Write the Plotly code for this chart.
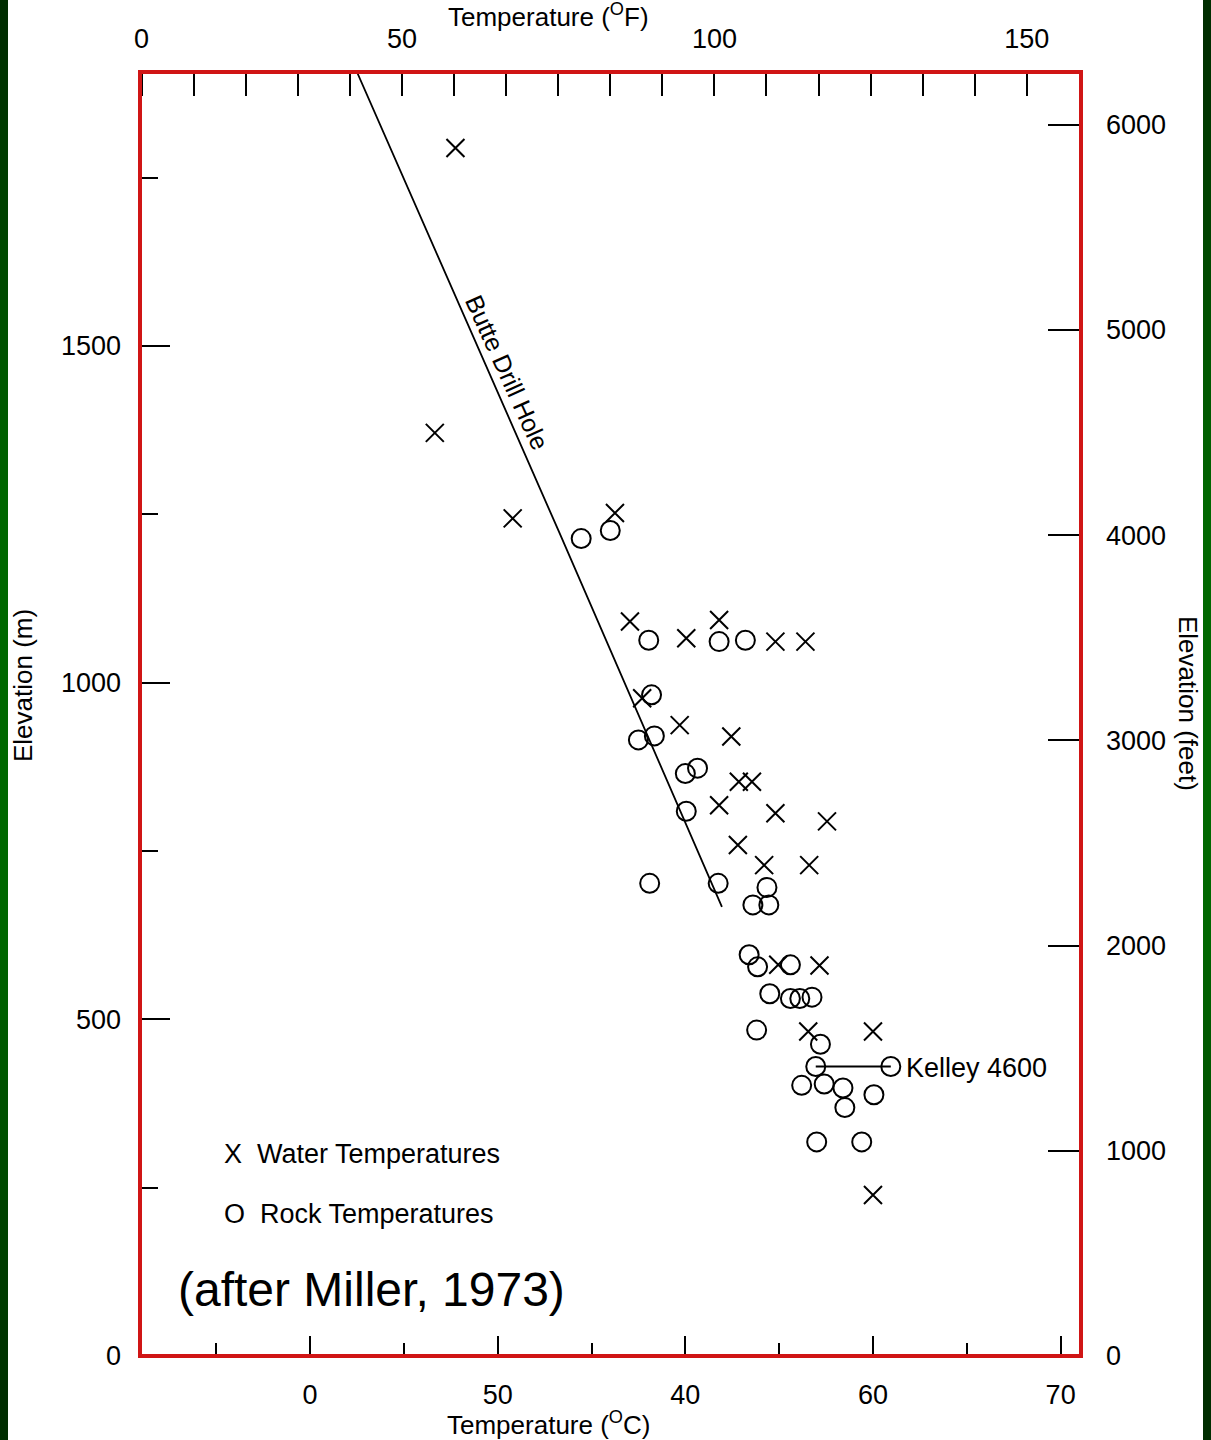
import plotly.graph_objects as go

# ---------------- data ----------------
water_temp_c = [15.5, 13.3, 21.6, 32.5, 34.1, 43.6, 40.1, 49.6, 52.8, 35.4, 39.4, 44.9,
                45.7, 47.1, 43.6, 49.6, 55.1, 45.6, 48.4, 53.2, 49.9, 54.3, 53.1, 60.0, 60.0]
water_elev_m = [1794, 1371, 1244, 1252, 1091, 1093, 1066, 1061, 1061, 977, 937, 920,
                853, 853, 818, 806, 794, 759, 729, 729, 581, 580, 482, 482, 239]

rock_temp_c = [28.9, 32.0, 36.1, 43.6, 46.4, 36.4, 35.0, 36.7, 40.0, 41.3, 40.1, 36.2,
               43.5, 48.7, 47.2, 48.9, 46.8, 47.7, 51.2, 49.0, 51.2, 52.2, 53.5, 47.6,
               54.4, 53.9, 61.9, 52.4, 54.8, 56.8, 57.0, 60.1, 54.0, 58.8]
rock_elev_m = [1214, 1226, 1063, 1061, 1063, 982, 915, 921, 865, 873, 809, 702,
               702, 696, 670, 670, 596, 578, 581, 538, 531, 531, 533, 484,
               463, 430, 430, 402, 404, 398, 369, 388, 318, 318]

kelley_temp_c = [53.9, 61.9]
kelley_elev_m = [430, 430]

drill_temp_c = [5.0, 26.6, 43.9]
drill_elev_m = [1907, 1222, 667]

bottom_tickvals = [0, 20, 40, 60, 80]
bottom_ticktext = ["0", "50", "40", "60", "70"]
bottom_minorvals = [-10, 10, 30, 50, 70]

top_tickvals = list(range(0, 180, 10))
top_ticktext = ["0", "", "", "", "", "50", "", "", "", "", "", "100",
                "", "", "", "", "", "150"]

left_tickvals = [0, 500, 1000, 1500]
left_ticktext = ["0", "500", "1000", "1500"]
left_minorvals = [250, 750, 1250, 1750]

right_tickvals = [0, 1000, 2000, 3000, 4000, 5000, 6000]
right_ticktext = ["0", "1000", "2000", "3000", "4000", "5000", "6000"]

# ---------------- layout geometry ----------------
W, H = 1211, 1440
L, R, T, B = 140, 1081, 72, 1356
FONT = "Liberation Sans, Arial, sans-serif"


def px(x):
    return (x - L) / (R - L)


def py(y):
    return (B - y) / (B - T)


fig = go.Figure()

fig.add_trace(go.Scatter(
    x=drill_temp_c, y=drill_elev_m, mode="lines",
    line=dict(color="black", width=1.8), showlegend=False, hoverinfo="skip"))

fig.add_trace(go.Scatter(
    x=kelley_temp_c, y=kelley_elev_m, mode="lines",
    line=dict(color="black", width=1.8), showlegend=False, hoverinfo="skip"))

fig.add_trace(go.Scatter(
    x=water_temp_c, y=water_elev_m, mode="markers", name="Water Temperatures",
    marker=dict(symbol="x-thin-open", size=18, color="black",
                line=dict(color="black", width=2)),
    showlegend=False))

fig.add_trace(go.Scatter(
    x=rock_temp_c, y=rock_elev_m, mode="markers", name="Rock Temperatures",
    marker=dict(symbol="circle-open", size=19, color="black",
                line=dict(color="black", width=2)),
    showlegend=False))

# invisible trace to establish the secondary (°F / feet) axes
fig.add_trace(go.Scatter(x=[None], y=[None], xaxis="x2", yaxis="y2",
                         showlegend=False, hoverinfo="skip"))

tickfont = dict(family=FONT, size=27, color="black")

fig.update_layout(
    width=W, height=H,
    margin=dict(l=L, r=W - R, t=T, b=H - B),
    paper_bgcolor="white", plot_bgcolor="white",
    showlegend=False,
    xaxis=dict(
        range=[-18.12, 82.17], tickmode="array", tickvals=bottom_tickvals,
        ticktext=bottom_ticktext, ticks="inside", ticklen=20, tickwidth=2,
        tickcolor="black", showgrid=False, zeroline=False, showline=False,
        tickfont=tickfont, ticklabelstandoff=20,
        minor=dict(tickmode="array", tickvals=bottom_minorvals, ticks="inside",
                   ticklen=13, tickwidth=1.5, tickcolor="black", showgrid=False)),
    xaxis2=dict(
        overlaying="x", side="top", anchor="y2", range=[-0.31, 180.4],
        tickmode="array", tickvals=top_tickvals, ticktext=top_ticktext,
        ticks="inside", ticklen=24, tickwidth=1.5, tickcolor="black",
        showgrid=False, zeroline=False, showline=False,
        tickfont=tickfont, ticklabelstandoff=18),
    yaxis=dict(
        range=[0, 1907], tickmode="array", tickvals=left_tickvals,
        ticktext=left_ticktext, ticks="inside", ticklen=30, tickwidth=1.5,
        tickcolor="black", showgrid=False, zeroline=False, showline=False,
        tickfont=tickfont, ticklabelstandoff=18,
        minor=dict(tickmode="array", tickvals=left_minorvals, ticks="inside",
                   ticklen=18, tickwidth=1.5, tickcolor="black", showgrid=False)),
    yaxis2=dict(
        overlaying="y", side="right", anchor="x2", range=[0, 6256.6],
        tickmode="array", tickvals=right_tickvals, ticktext=right_ticktext,
        ticks="inside", ticklen=33, tickwidth=1.5, tickcolor="black",
        showgrid=False, zeroline=False, showline=False,
        tickfont=tickfont, ticklabelstandoff=24),
)

shapes = []
# red frame
shapes.append(dict(type="rect", xref="paper", yref="paper", x0=0, x1=1, y0=0, y1=1,
                   line=dict(color="#d01515", width=4), layer="above"))
# green side bands (vertical gradient)
nseg = 24
for i in range(nseg):
    t = (i + 0.5) / nseg
    k = 1 - abs(2 * t - 1)  # 0 at ends, 1 in middle
    g = int(0x2a + (0x68 - 0x2a) * min(1.0, k * 1.4))
    col = "rgb(0,%d,0)" % g
    y0 = py(H * i / nseg)
    y1 = py(H * (i + 1) / nseg)
    shapes.append(dict(type="rect", xref="paper", yref="paper",
                       x0=px(0), x1=px(8), y0=y1, y1=y0,
                       fillcolor=col, line=dict(width=0), layer="above"))
    shapes.append(dict(type="rect", xref="paper", yref="paper",
                       x0=px(1203), x1=px(1211), y0=y1, y1=y0,
                       fillcolor=col, line=dict(width=0), layer="above"))
fig.update_layout(shapes=shapes)


def ann(text, x, y, size=27, angle=0, xanchor="center"):
    return dict(text=text, x=px(x), y=py(y), xref="paper", yref="paper",
                showarrow=False, textangle=angle, xanchor=xanchor, yanchor="middle",
                font=dict(family=FONT, size=size, color="black"))


fig.update_layout(annotations=[
    ann("Temperature (<sup>O</sup>F)", 548, 15, size=26),
    ann("Temperature (<sup>O</sup>C)", 548, 1423, size=26),
    ann("Elevation (m)", 23, 686, size=26, angle=-90),
    ann("Elevation (feet)", 1188, 703, size=26, angle=90),
    ann("Butte Drill Hole", 507, 372, size=25, angle=65.6),
    ann("Kelley 4600", 904, 1068, xanchor="left"),
    ann("X\u00a0\u00a0Water Temperatures", 222, 1154, xanchor="left"),
    ann("O\u00a0\u00a0Rock Temperatures", 222, 1214, xanchor="left"),
    ann("(after Miller, 1973)", 176, 1289, size=48, xanchor="left"),
])

fig.write_html("out.html", config={"displayModeBar": False},
               post_script="document.body.style.margin='0';document.body.style.overflow='hidden';")
